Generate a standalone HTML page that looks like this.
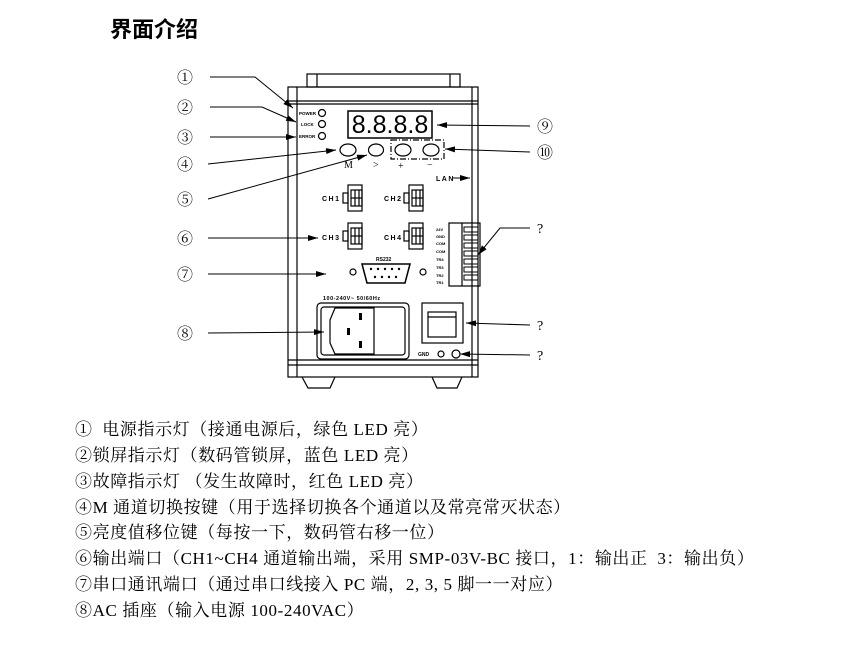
<!DOCTYPE html>
<html><head><meta charset="utf-8"><style>
body{margin:0;background:#fff;width:866px;height:660px;overflow:hidden;position:relative;font-family:"Liberation Serif","Noto Serif CJK SC",serif;}
.t{position:absolute;left:75px;font-size:17px;letter-spacing:0.6px;color:#000;white-space:nowrap;line-height:20px}
h1{position:absolute;left:110px;top:12px;margin:0;font-size:22px;font-weight:bold;font-family:"Liberation Sans","Noto Sans CJK SC",sans-serif}
svg{position:absolute;left:0;top:0}
</style></head><body>
<h1>界面介绍</h1>
<svg width="866" height="400" viewBox="0 0 866 400" font-family="Liberation Sans, sans-serif">
<defs><marker id="a" markerWidth="10" markerHeight="6" refX="10" refY="3" orient="auto" markerUnits="userSpaceOnUse"><path d="M0,0 L10,3 L0,6z" fill="#000"/></marker></defs>
<g fill="none" stroke="#000" stroke-width="1.2">
<rect x="307" y="74" width="153" height="13"/><line x1="317" y1="74" x2="317" y2="87"/><line x1="450" y1="74" x2="450" y2="87"/>
<rect x="288" y="87" width="190" height="290"/>
<line x1="297" y1="87" x2="297" y2="377"/><line x1="472" y1="87" x2="472" y2="377"/>
<line x1="288" y1="101" x2="478" y2="101"/><line x1="288" y1="104" x2="478" y2="104"/>
<line x1="288" y1="360" x2="478" y2="360"/><line x1="288" y1="365" x2="478" y2="365"/>
<path d="M302,377 L308,388 L330,388 L335,377"/><path d="M432,377 L437,388 L457,388 L462,377"/>
<circle cx="322" cy="113" r="3.5"/><circle cx="322" cy="124" r="3.5"/><circle cx="322" cy="136" r="3.5"/>
<rect x="348" y="111" width="84" height="27" stroke-width="1.5"/>
<ellipse cx="348" cy="150" rx="8" ry="6"/><ellipse cx="376" cy="150" rx="7.5" ry="6"/><ellipse cx="403" cy="150" rx="8" ry="6"/><ellipse cx="431" cy="150" rx="8" ry="6"/>
<rect x="391" y="140" width="53" height="19" stroke-dasharray="6,2,1,2"/>
<g id="c1"><rect x="348" y="185" width="14" height="26"/><rect x="343" y="193" width="5" height="10"/><rect x="351" y="190" width="11" height="16"/><line x1="355" y1="190" x2="355" y2="206"/><line x1="359" y1="190" x2="359" y2="206"/><line x1="351" y1="198" x2="362" y2="198"/></g>
<use href="#c1" x="61"/><use href="#c1" y="38"/><use href="#c1" x="61" y="38"/>
<rect x="449" y="223" width="31" height="63"/><line x1="462" y1="223" x2="462" y2="286"/>
<path d="M362,264 L410,264 L405,283 L367,283Z" stroke-width="1.5"/>
<circle cx="353" cy="272" r="3"/><circle cx="423" cy="272" r="3"/>
<rect x="317" y="303" width="92" height="56" rx="4"/><rect x="321" y="307" width="84" height="48" rx="3"/>
<path d="M335,308 L374,308 L374,354 L335,354 L330,343 L330,320Z"/>
<rect x="422" y="303" width="41" height="40"/><rect x="428" y="312" width="28" height="25"/><line x1="428" y1="317" x2="456" y2="317"/>
<circle cx="441" cy="354" r="3"/><circle cx="456" cy="354" r="4"/>
</g>
<g fill="#000">
<rect x="464" y="227" width="14" height="5" fill="none" stroke="#000"/><rect x="464" y="235" width="14" height="5" fill="none" stroke="#000"/><rect x="464" y="243" width="14" height="5" fill="none" stroke="#000"/><rect x="464" y="251" width="14" height="5" fill="none" stroke="#000"/><rect x="464" y="259" width="14" height="5" fill="none" stroke="#000"/><rect x="464" y="267" width="14" height="5" fill="none" stroke="#000"/><rect x="464" y="275" width="14" height="5" fill="none" stroke="#000"/>
<rect x="359" y="313" width="3" height="7"/><rect x="347" y="328" width="3" height="7"/><rect x="359" y="341" width="3" height="7"/>
<circle cx="371" cy="269" r="1.2"/><circle cx="378" cy="269" r="1.2"/><circle cx="385" cy="269" r="1.2"/><circle cx="392" cy="269" r="1.2"/><circle cx="399" cy="269" r="1.2"/>
<circle cx="375" cy="277" r="1.2"/><circle cx="382" cy="277" r="1.2"/><circle cx="389" cy="277" r="1.2"/><circle cx="396" cy="277" r="1.2"/>
<text x="390" y="133" font-size="25" text-anchor="middle">8.8.8.8</text>
<g font-size="4.5" font-weight="bold"><text x="299" y="115">POWER</text><text x="301" y="126">LOCK</text><text x="299" y="138">ERROR</text></g>
<g font-size="10" font-family="Liberation Serif,serif"><text x="344" y="168">M</text><text x="373" y="168">&gt;</text><text x="398" y="169">+</text><text x="427" y="168">−</text></g>
<g font-size="7" font-weight="bold" letter-spacing="1.5"><text x="436" y="181">LAN</text><text x="322" y="201">CH1</text><text x="384" y="201">CH2</text><text x="322" y="240">CH3</text><text x="384" y="240">CH4</text></g>
<g font-size="4" font-weight="bold"><text x="436" y="231">24V</text><text x="436" y="238">GND</text><text x="436" y="245">COM</text><text x="436" y="253">COM</text><text x="436" y="261">TR4</text><text x="436" y="269">TR3</text><text x="436" y="277">TR2</text><text x="436" y="284">TR1</text></g>
<text x="376" y="261" font-size="5" font-weight="bold">RS232</text>
<text x="323" y="300" font-size="5.5" font-weight="bold" letter-spacing="0.5">100-240V~ 50/60Hz</text>
<text x="418" y="356" font-size="5" font-weight="bold">GND</text>
</g>
<g stroke="#000" stroke-width="1" fill="none" marker-end="url(#a)">
<polyline points="210,77 255,77 293,108"/><polyline points="210,107 262,107 296,122"/><line x1="210" y1="137" x2="296" y2="137"/>
<line x1="208" y1="164" x2="336" y2="150"/><line x1="208" y1="199" x2="367" y2="155"/>
<line x1="208" y1="238" x2="318" y2="238"/><line x1="208" y1="274" x2="326" y2="274"/><line x1="208" y1="333" x2="324" y2="332"/>
<line x1="530" y1="126" x2="437" y2="125"/><line x1="530" y1="152" x2="445" y2="149"/>
<polyline points="530,228 500,228 478,255"/><line x1="530" y1="325" x2="466" y2="323"/><line x1="530" y1="355" x2="460" y2="354"/>
<line x1="452" y1="178" x2="470" y2="178"/>
</g>
<g font-size="16" font-family="Liberation Serif, Noto Serif CJK SC, serif">
<text x="177" y="83">①</text><text x="177" y="113">②</text><text x="177" y="143">③</text><text x="177" y="170">④</text><text x="177" y="205">⑤</text><text x="177" y="244">⑥</text><text x="177" y="280">⑦</text><text x="177" y="339">⑧</text>
<text x="537" y="132">⑨</text><text x="537" y="158">⑩</text>
<text x="537" y="233" font-size="14">?</text><text x="537" y="330" font-size="14">?</text><text x="537" y="360" font-size="14">?</text>
</g>
</svg>
<div class="t" style="top:420px">①&nbsp; 电源指示灯（接通电源后，绿色 LED 亮）</div>
<div class="t" style="top:446px">②锁屏指示灯（数码管锁屏，蓝色 LED 亮）</div>
<div class="t" style="top:472px">③故障指示灯 （发生故障时，红色 LED 亮）</div>
<div class="t" style="top:498px">④M 通道切换按键（用于选择切换各个通道以及常亮常灭状态）</div>
<div class="t" style="top:523px">⑤亮度值移位键（每按一下，数码管右移一位）</div>
<div class="t" style="top:549px">⑥输出端口（CH1~CH4 通道输出端，采用 SMP-03V-BC 接口，1：输出正 &nbsp;3：输出负）</div>
<div class="t" style="top:575px">⑦串口通讯端口（通过串口线接入 PC 端，2, 3, 5 脚一一对应）</div>
<div class="t" style="top:601px">⑧AC 插座（输入电源 100-240VAC）</div>
</body></html>
